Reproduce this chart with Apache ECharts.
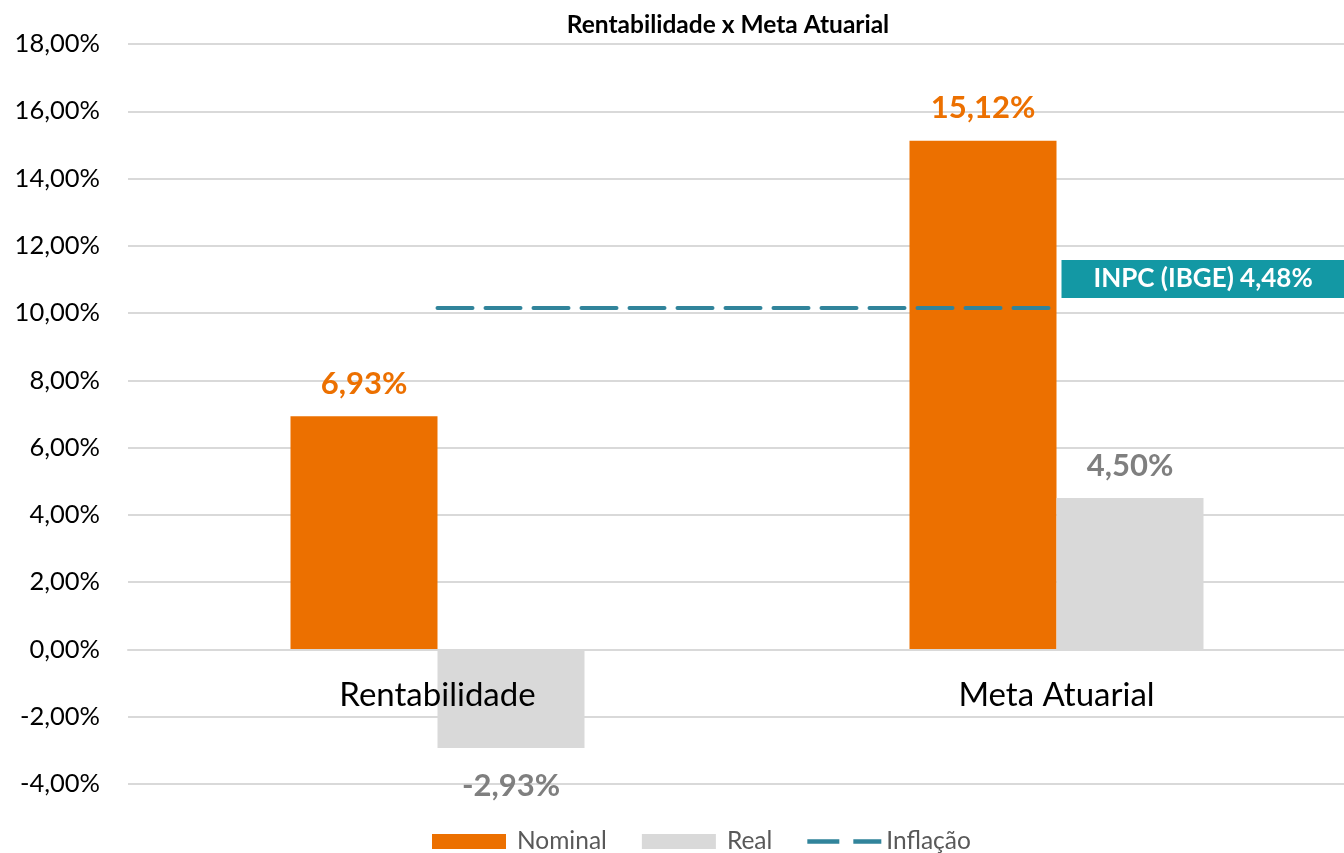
<!DOCTYPE html>
<html>
<head>
<meta charset="utf-8">
<script src="https://cdn.jsdelivr.net/npm/echarts@6/dist/echarts.min.js"></script>
<style>
html,body{margin:0;padding:0;background:#fff;}
#c{width:1344px;height:853px;}
</style>
</head>
<body>
<div id="c"></div>
<script>
const categories = ['Rentabilidade', 'Meta Atuarial'];
const nominal = [6.93, 15.12];
const real = [-2.93, 4.50];
const inflacao = [10.15, 10.15];
const inflacaoLabel = 'INPC (IBGE) 4,48%';
const yTicks = { min: -4, max: 18, interval: 2 };

const fmt = v => v.toFixed(2).replace('.', ',') + '%';
const ORANGE = '#EC7000', GRAY = '#D9D9D9', LINE = '#31849B', BOX = '#1398A4';
const FONT = 'Lato, "Open Sans", sans-serif';
const DASH_ICON = 'path://M0,0h0.05v0.05h-0.05z M0,5.25h32v4.5h-32z M46,5.25h28v4.5h-28z M73.95,14.95h0.05v0.05h-0.05z';

const barLabel = v => v < 0 ? { position: 'bottom', distance: 22 } : { position: 'top', distance: 17 };

const chart = echarts.init(document.getElementById('c'));
chart.setOption({
  animation: false,
  title: {
    text: 'Rentabilidade x Meta Atuarial',
    left: 723, textAlign: 'center', top: 8,
    textStyle: { fontFamily: FONT, fontSize: 24.5, fontWeight: 'bold', color: '#000' }
  },
  legend: {
    top: 824, left: 427,
    itemWidth: 74, itemHeight: 15, itemGap: 35,
    textStyle: { fontFamily: FONT, fontSize: 24.5, color: '#595959', padding: [0, 0, 0, 6] },
    data: [
      { name: 'Nominal', icon: 'rect' },
      { name: 'Real', icon: 'rect' },
      { name: 'Inflação', icon: DASH_ICON, itemStyle: { color: LINE }, textStyle: { padding: [0, 0, 0, 0] } }
    ]
  },
  grid: { left: 128, top: 44, right: -22, bottom: 69, outerBoundsMode: 'none', containLabel: false },
  xAxis: {
    type: 'category', data: categories, z: 10,
    offset: -134.5,
    axisLine: { show: true, onZero: false, lineStyle: { color: '#D9D9D9', width: 2 } },
    axisTick: { show: false },
    axisLabel: { fontFamily: FONT, fontSize: 33, color: '#000', margin: 29 }
  },
  yAxis: {
    type: 'value', min: yTicks.min, max: yTicks.max, interval: yTicks.interval,
    axisLine: { show: false }, axisTick: { show: false },
    splitLine: { lineStyle: { color: '#D9D9D9', width: 2 } },
    axisLabel: { fontFamily: FONT, fontSize: 25.5, color: '#000', margin: 28, formatter: fmt }
  },
  series: [
    {
      name: 'Nominal', type: 'bar', barWidth: 147, barGap: '0%',
      itemStyle: { color: ORANGE },
      label: { show: true, position: 'top', distance: 17, fontFamily: FONT, fontSize: 31, fontWeight: 'bold', color: ORANGE, formatter: p => fmt(p.value) },
      data: nominal.map(v => ({ value: v, label: barLabel(v) }))
    },
    {
      name: 'Real', type: 'bar', barWidth: 147, barGap: '0%',
      itemStyle: { color: GRAY },
      label: { show: true, position: 'top', distance: 17, fontFamily: FONT, fontSize: 31, fontWeight: 'bold', color: '#7F7F7F', formatter: p => fmt(p.value) },
      data: real.map(v => ({ value: v, label: barLabel(v) }))
    },
    {
      name: 'Inflação', type: 'line', symbol: 'circle', symbolSize: 0.01, showSymbol: true, z: 5,
      lineStyle: { color: LINE, width: 4, type: [35, 13], cap: 'round' },
      itemStyle: { color: LINE },
      data: inflacao.map((v, i) => i === inflacao.length - 1 ? {
        value: v,
        label: {
          show: true, position: 'right', distance: 5, offset: [0, -29],
          formatter: inflacaoLabel,
          backgroundColor: BOX, color: '#fff', fontFamily: FONT, fontSize: 26, fontWeight: 'bold',
          padding: [6, 32, 6, 32]
        }
      } : { value: v, label: { show: false } })
    }
  ]
});
</script>
</body>
</html>
